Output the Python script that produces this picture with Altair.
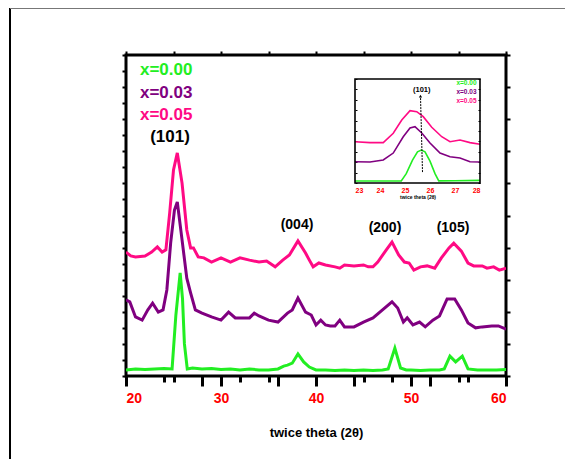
import altair as alt
import pandas as pd

FONT = "Liberation Sans"
GREEN = "#22ee22"
PURPLE = "#800080"
PINK = "#ff0a84"

series_names = ["x=0.00", "x=0.03", "x=0.05"]
series_colors = [GREEN, PURPLE, PINK]

# ---- main pattern (2theta, intensity a.u.) ----
green_x = [20, 21, 22, 23, 24, 24.85, 25.25, 25.7, 25.95, 26.15, 26.45, 27, 28, 29, 30, 31, 32, 33, 34, 35, 36,
           36.6, 37.0, 37.5, 38.1, 38.7, 39.3, 40, 41, 42, 43, 44, 45, 46, 47, 47.6, 48.3, 48.9, 49.5,
           50, 51, 52, 53, 53.5, 54.1, 54.7, 55.4, 56.0, 57, 58, 59, 60]
green_y = [0.19, 0.22, 0.2, 0.22, 0.23, 0.22, 1.9, 3.21, 2.4, 1.0, 0.22, 0.25, 0.22, 0.23, 0.2, 0.22, 0.19, 0.22, 0.19, 0.19, 0.22,
           0.31, 0.34, 0.40, 0.69, 0.44, 0.28, 0.19, 0.19, 0.17, 0.19, 0.17, 0.19, 0.17, 0.19, 0.22, 0.87, 0.25, 0.19,
           0.19, 0.17, 0.19, 0.19, 0.22, 0.62, 0.44, 0.62, 0.22, 0.19, 0.19, 0.19, 0.2]

purple_x = [20, 20.4, 21.0, 21.7, 22.3, 22.8, 23.4, 23.9, 24.3, 24.7, 25.1, 25.4, 25.9, 26.4, 26.8, 27.3,
            28, 29, 30, 30.8, 31.5, 32, 33, 33.5, 34, 35, 36, 37, 37.5, 38.1, 38.9, 39.5, 40.0, 40.5, 41, 41.5,
            42, 42.5, 43, 44, 45, 46, 47, 48.0, 48.6, 49.2, 49.6, 50.2, 50.9, 51.5, 52.3, 53.0, 53.8, 54.6,
            55.3, 56.0, 56.8, 57.5, 58.5, 59.2, 60]
purple_y = [2.37, 2.31, 1.84, 1.74, 2.06, 2.27, 1.99, 2.06, 2.68, 4.14, 5.17, 5.42, 4.24, 3.05, 2.59, 2.06,
            1.96, 1.84, 1.74, 1.99, 1.81, 1.81, 1.81, 1.96, 1.87, 1.74, 1.68, 1.96, 2.06, 2.43, 1.99, 1.90, 1.59, 1.74, 1.59, 1.56,
            1.56, 1.74, 1.53, 1.53, 1.68, 1.81, 2.06, 2.31, 2.12, 1.68, 1.81, 1.59, 1.68, 1.53, 1.74, 1.87, 2.40, 2.40,
            2.06, 1.65, 1.50, 1.53, 1.56, 1.56, 1.46]

pink_x = [20, 20.5, 21, 22, 22.7, 23.3, 23.8, 24.2, 24.6, 25.0, 25.4, 25.9, 26.4, 26.8, 27.1, 27.6, 28.2,
          29, 30, 31, 32, 33, 34, 34.8, 35.7, 36.5, 37.2, 38.1, 38.9, 39.3, 39.7, 40.3, 41, 42, 42.5, 43, 44,
          45, 45.5, 46, 46.5, 47.4, 48.0, 48.7, 49.3, 49.8, 50.3, 51, 51.7, 52.5, 53.2, 54.0, 54.5, 55.3,
          56.0, 56.6, 57.5, 58.0, 58.7, 59.3, 60]
pink_y = [3.86, 3.74, 3.71, 3.74, 3.86, 4.02, 3.86, 3.93, 5.08, 6.42, 6.95, 6.01, 4.55, 3.99, 3.99, 3.71, 3.68,
          3.55, 3.68, 3.55, 3.68, 3.61, 3.55, 3.58, 3.40, 3.61, 3.77, 4.21, 3.83, 3.61, 3.40, 3.52, 3.46, 3.40, 3.36, 3.46, 3.43,
          3.46, 3.40, 3.40, 3.55, 3.93, 4.17, 3.77, 3.55, 3.52, 3.30, 3.40, 3.43, 3.36, 3.68, 3.99, 4.14, 3.89,
          3.52, 3.43, 3.43, 3.36, 3.40, 3.30, 3.36]

# main annotations
legend_x = [21.47, 21.47, 21.47]
legend_y = [9.52, 8.81, 8.14]
peak_labels = ["(101)", "(004)", "(200)", "(105)"]
peak_x = [24.63, 38.0, 47.26, 54.42]
peak_y = [7.43, 4.70, 4.61, 4.61]
peak_size = [17, 14, 14, 14]

# ---- inset (zoom on 101 peak) ----
in_green_x = [23, 24, 24.85, 25.05, 25.3, 25.5, 25.65, 25.8, 26.0, 26.2, 26.35, 27, 28]
in_green_y = [0.19, 0.19, 0.2, 0.9, 2.2, 3.0, 3.17, 3.0, 2.1, 0.9, 0.2, 0.22, 0.25]
in_purple_x = [23.0, 23.6, 24.13, 24.53, 24.93, 25.2, 25.4, 25.67, 26.0, 26.4, 26.8, 27.2, 27.6, 28.0]
in_purple_y = [2.05, 2.02, 2.21, 2.88, 4.45, 5.29, 5.41, 4.81, 3.85, 2.88, 2.53, 2.40, 2.05, 2.02]
in_pink_x = [23.0, 23.6, 24.13, 24.53, 24.87, 25.2, 25.47, 25.73, 26.07, 26.47, 26.8, 27.2, 27.6, 28.0]
in_pink_y = [3.97, 3.88, 3.88, 4.78, 6.06, 6.95, 6.86, 6.38, 5.36, 4.45, 3.97, 4.13, 3.88, 3.72]
in_legend_x = [27.86, 27.86, 27.86]
in_legend_y = [9.64, 8.78, 7.91]
in_peak_label = ["(101)"]
in_peak_x = [25.67]
in_peak_y = [8.94]
arrow_x = [25.70, 25.62]
arrow_y = [1.05, 8.35]

x_long_ticks = [20, 28, 30, 36, 40, 44, 50, 52, 60]
x_short_ticks = [24, 25, 32, 35, 45, 48, 55, 56]
x_top_ticks = [20, 25, 30, 35, 40, 45, 50, 55, 60]
y_left_ticks = [i * 0.5 for i in range(21)]
y_right_ticks = list(range(11))
in_x_ticks = [23, 24, 25, 26, 27, 28]
in_y_ticks = list(range(11))

# ---- tables ----
def long_df(xs_list, ys_list):
    rows = []
    for name, xs, ys in zip(series_names, xs_list, ys_list):
        for i, (a, b) in enumerate(zip(xs, ys)):
            rows.append({"series": name, "x": a, "y": b, "i": i})
    return pd.DataFrame(rows)

main_df = long_df([green_x, purple_x, pink_x], [green_y, purple_y, pink_y])
inset_df = long_df([in_green_x, in_purple_x, in_pink_x], [in_green_y, in_purple_y, in_pink_y])
legend_df = pd.DataFrame({"label": series_names, "x": legend_x, "y": legend_y})
peaks_df = pd.DataFrame({"label": peak_labels, "x": peak_x, "y": peak_y, "s": peak_size})
in_legend_df = pd.DataFrame({"label": series_names, "x": in_legend_x, "y": in_legend_y})
in_peak_df = pd.DataFrame({"label": in_peak_label, "x": in_peak_x, "y": in_peak_y})
arrow_df = pd.DataFrame({"x": arrow_x, "y": arrow_y, "i": [0, 1]})
arrow_head_df = arrow_df.iloc[[1]]
in_box_df = pd.DataFrame({"x": [in_x_ticks[0]], "x2": [in_x_ticks[-1]], "y": [in_y_ticks[0]], "y2": [in_y_ticks[-1]]})

W, H = 380, 321
xs_main = alt.Scale(domain=[20, 60], nice=False, zero=False)
ys_main = alt.Scale(domain=[0, 10], nice=False, zero=False)
color_scale = alt.Scale(domain=series_names, range=series_colors)

# inset placement inside the plot area (pixels)
IN_L, IN_R, IN_T, IN_B = 229, 354, 24, 128
xs_in = alt.Scale(domain=[23, 28], nice=False, zero=False, range=[IN_L, IN_R])
ys_in = alt.Scale(domain=[0, 10], nice=False, zero=False, range=[IN_B, IN_T])

# ---- main layers ----
lines = alt.Chart(main_df).mark_line(strokeWidth=3, clip=True).encode(
    x=alt.X("x:Q", scale=xs_main, axis=alt.Axis(
        orient="bottom", values=x_long_ticks,
        labelExpr="datum.value % 10 === 0 ? datum.label : ''",
        tickSize=10, tickWidth=3, tickColor="black", domain=False,
        labelColor="#ff0000", labelFont=FONT, labelFontWeight="bold", labelFontSize=14,
        labelPadding=5, title="twice theta (2θ)", titleFont=FONT, titleFontSize=13,
        titleFontWeight="bold", titleColor="black", titlePadding=21, grid=False)),
    y=alt.Y("y:Q", scale=ys_main, axis=alt.Axis(
        orient="left", values=y_left_ticks, labels=False, tickSize=4, tickWidth=2,
        tickColor="black", domain=False, title=None, grid=False)),
    color=alt.Color("series:N", scale=color_scale, legend=None),
    detail="series:N",
    order="i:Q",
)

short_ticks = alt.Chart(main_df).mark_point(opacity=0).encode(
    x=alt.X("x:Q", scale=xs_main, axis=alt.Axis(
        orient="bottom", values=x_short_ticks, labels=False, tickSize=6, tickWidth=3,
        tickColor="black", domain=False, title=None, grid=False)),
    y=alt.Y("y:Q", scale=ys_main, axis=alt.Axis(
        orient="right", values=y_right_ticks, labels=False, tickSize=4, tickWidth=2,
        tickColor="black", domain=False, title=None, grid=False)),
)

top_ticks = alt.Chart(main_df).mark_point(opacity=0).encode(
    x=alt.X("x:Q", scale=xs_main, axis=alt.Axis(
        orient="top", values=x_top_ticks, labels=False, tickSize=4, tickWidth=2,
        tickColor="black", domain=False, title=None, grid=False)),
    y=alt.Y("y:Q", scale=ys_main, axis=None),
)

legend_text = alt.Chart(legend_df).mark_text(
    align="left", baseline="middle", font=FONT, fontWeight="bold", fontSize=17
).encode(
    x=alt.X("x:Q", scale=xs_main, axis=None),
    y=alt.Y("y:Q", scale=ys_main, axis=None),
    text="label:N",
    color=alt.Color("label:N", scale=color_scale, legend=None),
)

peak_text = alt.Chart(peaks_df).mark_text(
    align="center", baseline="middle", font=FONT, fontWeight="bold", color="black"
).encode(
    x=alt.X("x:Q", scale=xs_main, axis=None),
    y=alt.Y("y:Q", scale=ys_main, axis=None),
    text="label:N",
    size=alt.Size("s:Q", scale=None, legend=None),
)

main = alt.layer(lines, short_ticks, top_ticks, legend_text, peak_text).resolve_axis(
    x="independent", y="independent")

# ---- inset layers ----
in_lines = alt.Chart(inset_df).mark_line(strokeWidth=1.6).encode(
    x=alt.X("x:Q", scale=xs_in, axis=alt.Axis(
        orient="bottom", offset=IN_B - H, values=in_x_ticks, ticks=False, domain=False,
        labelColor="#ff0000", labelFont=FONT, labelFontWeight="bold", labelFontSize=7,
        labelPadding=3, title="twice theta (2θ)", titleFont=FONT, titleFontSize=5,
        titleFontWeight="bold", titleColor="black", titlePadding=1, grid=False)),
    y=alt.Y("y:Q", scale=ys_in, axis=alt.Axis(
        orient="right", offset=IN_L - W, values=in_y_ticks, labels=False, tickSize=2,
        tickWidth=1, tickColor="black", domain=False, title=None, grid=False)),
    color=alt.Color("series:N", scale=color_scale, legend=None),
    detail="series:N",
    order="i:Q",
)

in_box = alt.Chart(in_box_df).mark_rect(fill=None, stroke="black", strokeWidth=1.6).encode(
    x=alt.X("x:Q", scale=xs_in, axis=None),
    x2="x2:Q",
    y=alt.Y("y:Q", scale=ys_in, axis=alt.Axis(
        orient="left", offset=-IN_R, values=in_y_ticks, labels=False, tickSize=2,
        tickWidth=1, tickColor="black", domain=False, title=None, grid=False)),
    y2="y2:Q",
)

in_legend = alt.Chart(in_legend_df).mark_text(
    align="right", baseline="middle", font=FONT, fontWeight="bold", fontSize=6.5
).encode(
    x=alt.X("x:Q", scale=xs_in, axis=None),
    y=alt.Y("y:Q", scale=ys_in, axis=None),
    text="label:N",
    color=alt.Color("label:N", scale=color_scale, legend=None),
)

in_peak = alt.Chart(in_peak_df).mark_text(
    align="center", baseline="middle", font=FONT, fontWeight="bold", fontSize=7.5, color="black"
).encode(
    x=alt.X("x:Q", scale=xs_in, axis=None),
    y=alt.Y("y:Q", scale=ys_in, axis=None),
    text="label:N",
)

arrow_line = alt.Chart(arrow_df).mark_line(color="black", strokeWidth=1, strokeDash=[2, 1]).encode(
    x=alt.X("x:Q", scale=xs_in, axis=None),
    y=alt.Y("y:Q", scale=ys_in, axis=None),
    order="i:Q",
)

arrow_head = alt.Chart(arrow_head_df).mark_point(
    shape="triangle-up", filled=True, color="black", size=10, opacity=1
).encode(
    x=alt.X("x:Q", scale=xs_in, axis=None),
    y=alt.Y("y:Q", scale=ys_in, axis=None),
)

inset = alt.layer(in_lines, in_box, in_legend, in_peak, arrow_line, arrow_head).resolve_axis(
    x="independent", y="independent")

# ---- outer page frame (left and top borders) ----
frame_src = pd.DataFrame({"k": [0]})
frame_left = alt.Chart(frame_src).mark_rule(color="black", strokeWidth=2).encode(
    x=alt.value(-116), y=alt.value(-47), y2=alt.value(420))
frame_top = alt.Chart(frame_src).mark_rule(color="#777777", strokeWidth=2).encode(
    x=alt.value(-116), x2=alt.value(460), y=alt.value(-47))

chart = alt.layer(main, inset, frame_left, frame_top).resolve_scale(
    x="independent", y="independent", color="shared"
).resolve_axis(
    x="independent", y="independent"
).properties(
    width=W, height=H,
    autosize=alt.AutoSizeParams(type="none"),
    padding={"left": 118, "top": 47, "right": 59, "bottom": 83},
).configure_view(
    stroke="black", strokeWidth=3
).configure_axis(grid=False)

chart.save("out.html", embed_options={"renderer": "svg", "actions": False})
